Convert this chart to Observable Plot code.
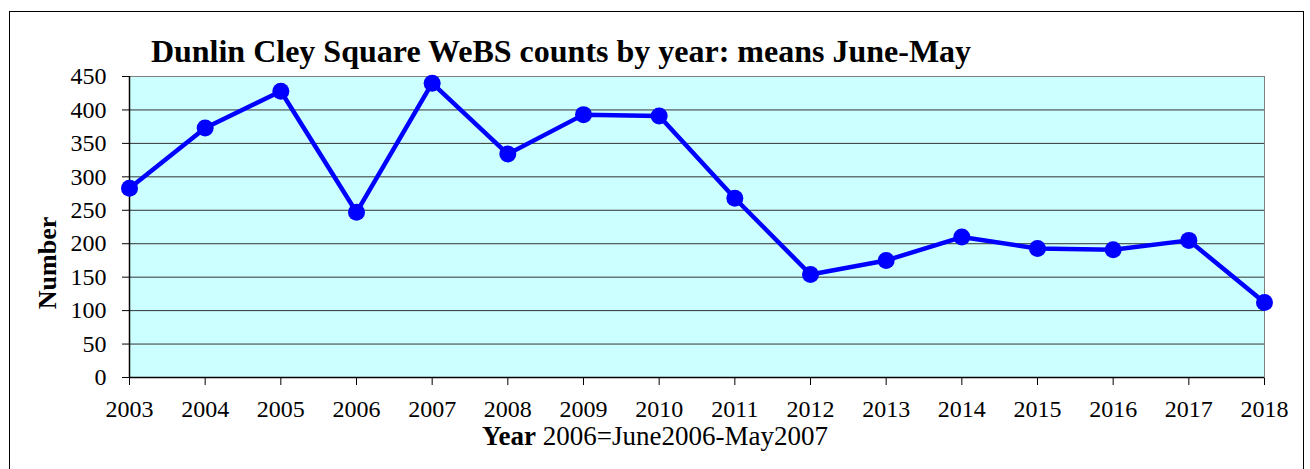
<!DOCTYPE html>
<html>
<head>
<meta charset="utf-8">
<script src="https://cdn.jsdelivr.net/npm/d3@7"></script>
<script src="https://cdn.jsdelivr.net/npm/@observablehq/plot@0.6"></script>
<style>
  html, body { margin: 0; padding: 0; background: #ffffff; }
  #wrap { position: relative; width: 1310px; height: 469px; overflow: hidden; background: #ffffff;
          font-family: "Liberation Serif", "Times New Roman", serif; color: #000; }
  #border { position: absolute; left: 9px; top: 11px; width: 1295px; height: 500px;
            border: 1px solid #000; box-sizing: border-box; }
  #chart { position: absolute; left: 0; top: 0; }
  .title { position: absolute; left: 0; width: 1122px; top: 35px; text-align: center;
           font-size: 32px; line-height: 32px; font-weight: bold; white-space: nowrap; }
  .xlabel { position: absolute; left: 0; width: 1310px; top: 425px; text-align: center;
            font-size: 27px; line-height: 22px; white-space: nowrap; }
  .ylabel { position: absolute; left: 48px; top: 263px; font-size: 26px; line-height: 26px;
            font-weight: bold; white-space: nowrap; transform: translate(-50%, -50%) rotate(-90deg); }
</style>
</head>
<body>
<div id="wrap">
  <div id="border"></div>
  <div id="chart"></div>
  <div class="title">Dunlin Cley Square WeBS counts by year: means June-May</div>
  <div class="xlabel"><b>Year</b> 2006=June2006-May2007</div>
  <div class="ylabel">Number</div>
</div>
<script>
// Data
const years = [2003, 2004, 2005, 2006, 2007, 2008, 2009, 2010, 2011, 2012, 2013, 2014, 2015, 2016, 2017, 2018];
const counts = [283, 373, 428, 247, 440, 334, 393, 391, 268, 154, 175, 210, 193, 191, 205, 112];
const yTicks = [0, 50, 100, 150, 200, 250, 300, 350, 400, 450];

const data = years.map((y, i) => ({year: y, count: counts[i]}));

const chart = Plot.plot({
  width: 1310,
  height: 469,
  marginLeft: 129,
  marginRight: 46,
  marginTop: 76,
  marginBottom: 92,
  style: {
    fontFamily: '"Liberation Serif", "Times New Roman", serif',
    fontSize: "24px",
    color: "#000",
    background: "transparent",
    overflow: "visible"
  },
  x: {domain: [2003, 2018], ticks: years, tickFormat: d => String(d), tickSize: 8, tickPadding: 14, label: null},
  y: {domain: [0, 450], ticks: yTicks, tickSize: 7, tickPadding: 16, label: null},
  marks: [
    Plot.frame({fill: "#CCFFFF", stroke: "#808080"}),
    Plot.ruleY(yTicks.filter(d => d > 0 && d < 450), {stroke: "#333333", strokeWidth: 1}),
    Plot.ruleY([0], {stroke: "#000", strokeWidth: 1.5}),
    Plot.ruleX([2003], {stroke: "#000", strokeWidth: 1.5}),
    Plot.line(data, {x: "year", y: "count", stroke: "#0000FF", strokeWidth: 4.5}),
    Plot.dot(data, {x: "year", y: "count", r: 8.5, fill: "#0000FF", stroke: "none"})
  ]
});
document.getElementById("chart").appendChild(chart);
</script>
</body>
</html>
